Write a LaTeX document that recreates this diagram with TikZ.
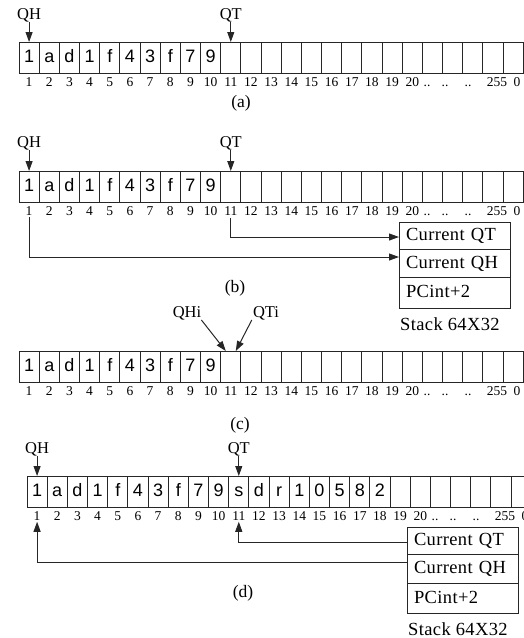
\documentclass[tikz,border=0pt]{standalone}
\usepackage{fontspec}
\setmainfont{Liberation Serif}
\newfontfamily\cellfont{Liberation Sans}
\newfontfamily\widefont[LetterSpace=2]{Liberation Serif}
\usetikzlibrary{arrows.meta, calc, positioning}

\tikzset{
  cell/.style={draw=black!85, line width=1pt, minimum width=20.17pt, minimum height=31pt,
    inner sep=0pt, outer sep=0pt, anchor=north west, text height=12.9pt, text depth=3pt,
    font=\cellfont\fontsize{18}{18}\selectfont},
  idx/.style={inner sep=0pt, text height=9.1pt, text depth=0pt, font=\fontsize{13.5}{13.5}\selectfont},
  ptr/.style={inner sep=0pt, font=\fontsize{16.5}{16.5}\selectfont},
  panelcap/.style={inner sep=0pt, font=\fontsize{17.5}{17.5}\selectfont},
  slot/.style={draw=black!85, line width=1pt, minimum width=111pt, text width=97pt, align=left,
    inner xsep=7pt, inner ysep=0pt, outer sep=0pt, text height=12.6pt, text depth=2pt,
    font=\widefont\fontsize{18.5}{18.5}\selectfont},
  stacklbl/.style={inner sep=0pt, anchor=north west, font=\widefont\fontsize{18.5}{18.5}\selectfont},
  tip/.style={-{Triangle[length=10pt,width=7pt]}, line width=1pt, draw=black!85}
}

% one row of cells: name, left, top, contents, first empty cell
\newcommand\tape[5]{%
  \foreach \t [count=\k] in {#4}
    \node[cell] (#1\k) at ({#2+20.17*(\k-1)},#3) {\t};
  \foreach \k in {#5,...,25}
    \node[cell] (#1\k) at ({#2+20.17*(\k-1)},#3) {};
  \foreach \k in {1,...,20}
    \node[idx] (i#1\k) at ($(#1\k.south)+(0,9)$) {\k};
  \node[idx] (i#1d1) at ($(#11.south west)+(408,9)$) {..};
  \node[idx] (i#1d2) at ($(#11.south west)+(426,9)$) {..};
  \node[idx] (i#1d3) at ($(#11.south west)+(449,9)$) {..};
  \node[idx] (i#1e) at ($(#11.south west)+(478,9)$) {255};
  \node[idx] (i#1z) at ($(#11.south west)+(498,9)$) {0};
}

\begin{document}
\begin{tikzpicture}[x=1pt, y=-1pt]
  \useasboundingbox (0,0) rectangle (523,638);

  % (a)
  \tape{a}{19}{42}{1,a,d,1,f,4,3,f,7,9}{11}
  \node[ptr, above=20pt of a1.north] (qha) {QH};
  \node[ptr, above=20pt of a11.north] (qta) {QT};
  \draw[tip] (qha) -- (a1.north);
  \draw[tip] (qta) -- (a11.north);
  \node[panelcap] (capa) at (241,103) {(a)};

  % (b)
  \tape{b}{19}{171}{1,a,d,1,f,4,3,f,7,9}{11}
  \node[ptr, above=21pt of b1.north] (qhb) {QH};
  \node[ptr, above=21pt of b11.north] (qtb) {QT};
  \draw[tip] (qhb) -- (b1.north);
  \draw[tip] (qtb) -- (b11.north);
  \node[slot, minimum height=27pt, anchor=north west] (qt1) at (399,222) {Current QT};
  \node[slot, minimum height=28pt, below=0pt of qt1] (qh1) {Current QH};
  \node[slot, minimum height=31pt, below=0pt of qh1] (pc1) {PCint+2};
  \node[stacklbl] (st1) at ($(pc1.south west)+(1,9)$) {Stack 64X32};
  \draw[tip] ($(ib11.south)+(0,2)$) |- ($(qt1.west)+(0,1.5)$);
  \draw[tip] ($(ib1.south)+(0,1)$) |- ($(qh1.west)+(0,-6)$);
  \node[panelcap] (capb) at (235,288) {(b)};

  % (c)
  \tape{c}{19}{351}{1,a,d,1,f,4,3,f,7,9}{11}
  \node[ptr] (qhi) at (187,313) {QHi};
  \node[ptr] (qti) at (266,313) {QTi};
  \draw[tip] (qhi.south east) -- ($(c11.north)+(-5,0)$);
  \draw[tip] ($(qti.south west)+(-1,0)$) -- ($(c11.north)+(5,0)$);
  \node[panelcap] (capc) at (240,425) {(c)};

  % (d)
  \tape{d}{27}{476}{1,a,d,1,f,4,3,f,7,9,s,d,r,1,0,5,8,2}{19}
  \node[ptr, above=20pt of d1.north] (qhd) {QH};
  \node[ptr, above=20pt of d11.north] (qtd) {QT};
  \draw[tip] (qhd) -- (d1.north);
  \draw[tip] (qtd) -- (d11.north);
  \node[slot, minimum height=27pt, anchor=north west] (qt2) at (407,527) {Current QT};
  \node[slot, minimum height=29pt, below=0pt of qt2] (qh2) {Current QH};
  \node[slot, minimum height=30pt, below=0pt of qh2] (pc2) {PCint+2};
  \node[stacklbl] (st2) at ($(pc2.south west)+(1,9)$) {Stack 64X32};
  \draw[tip] ($(qt2.west)+(0,1.5)$) -| ($(id11.south)+(0,1)$);
  \draw[tip] ($(qh2.west)+(0,-6.5)$) -| ($(id1.south)+(0,1)$);
  \node[panelcap] (capd) at (243,593) {(d)};
\end{tikzpicture}
\end{document}
